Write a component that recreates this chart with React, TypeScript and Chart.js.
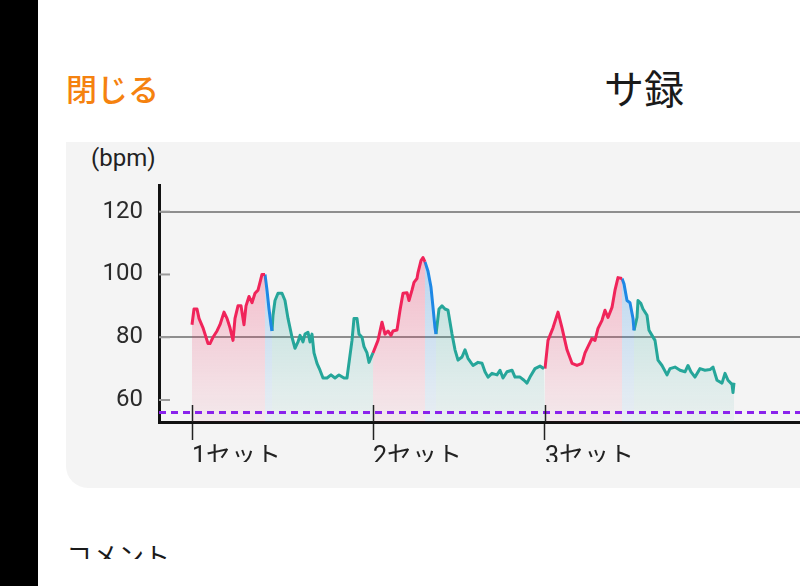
import React, { useEffect, useRef } from "react";
import { Chart, registerables } from "chart.js";

Chart.register(...registerables);

// ---- data (t = seconds from first set start, bpm) ----
const set1Rise: [number, number][] = [
  [0, 84], [2, 89], [5, 89], [7, 86], [11, 83], [14, 80], [16, 78], [18, 78], [21, 80], [25, 82],
  [28, 84], [32, 88], [35, 86], [38, 83], [41, 79], [43, 86], [46, 90], [49, 90], [52, 84], [54, 90],
  [57, 93], [60, 91], [63, 94], [66, 95], [68, 97.5], [70, 100], [73, 100],
];
const set1Drop: [number, number][] = [[73, 100], [75, 95], [77, 89], [79, 84], [80, 82]];
const set1Recovery: [number, number][] = [
  [80, 82], [81, 87], [83, 91.7], [86, 94], [90, 94], [93, 91.7], [96, 86], [100, 80], [103, 76.5],
  [106, 78.5], [108, 80.6], [111, 78.5], [113, 81], [116, 81.6], [118, 78.5], [120, 81], [122, 75],
  [125, 71.7], [128, 69.5], [131, 67], [135, 67], [139, 68], [143, 67], [147, 68], [152, 67],
  [155, 67], [156, 69.5], [160, 79], [162, 86], [165, 86], [167, 81], [170, 80], [172, 77],
  [175, 75], [177, 72], [180, 74.3], [181, 75],
];
const set2Rise: [number, number][] = [
  [181, 75], [186, 79], [190, 84.8], [193, 81], [196, 82], [199, 80.6], [201, 82], [205, 82.3],
  [208, 88.6], [211, 94], [215, 94.2], [217, 91.7], [220, 95], [222, 97.5], [225, 98.7],
  [226, 100.6], [229, 104.4], [231, 105.4], [233, 104],
];
const set2Drop: [number, number][] = [[233, 104], [236, 101], [239, 95.9], [241, 89.5], [243, 83], [244, 81]];
const set2Recovery: [number, number][] = [
  [244, 81], [246, 86.3], [247, 89], [250, 90], [253, 89], [256, 88.6], [260, 81], [263, 76],
  [266, 72.7], [270, 73.7], [273, 76], [276, 73.3], [281, 71], [286, 72], [290, 71.7], [293, 69],
  [296, 67.3], [300, 68.5], [305, 68], [308, 69.5], [311, 67], [315, 69], [320, 69.5], [323, 67.3],
  [328, 67.3], [332, 66.3], [335, 65.4], [338, 67.3], [343, 70], [348, 70.8], [352, 70], [353, 70],
];
const set3Rise: [number, number][] = [
  [353, 70], [356, 79], [361, 83], [366, 88], [370, 83], [375, 76], [380, 71.7], [385, 71],
  [390, 71.7], [393, 75], [396, 77], [400, 79.6], [403, 79], [406, 82.8], [410, 85.4], [413, 88.6],
  [416, 86.3], [420, 89.5], [423, 95], [426, 99], [430, 98.7],
];
const set3Drop: [number, number][] = [[430, 98.7], [432, 97], [435, 91.7], [438, 91], [441, 86], [442, 82.2]];
const set3Recovery: [number, number][] = [
  [442, 82.2], [445, 86.3], [446, 91.7], [449, 90.7], [451, 89], [455, 87], [457, 82.2], [460, 80.6],
  [463, 79], [466, 72.7], [470, 71], [475, 68], [478, 70], [483, 70.5], [488, 69.5], [493, 69],
  [496, 71], [499, 69], [503, 67.3], [508, 70], [513, 69.5], [518, 69.7], [521, 70.5], [525, 66.3],
  [530, 65.4], [533, 68.5], [536, 66.3], [540, 65], [541, 62.4], [542, 65.5],
];

const setLabels = ["1セット", "2セット", "3セット"];
const setStarts = [0, 181, 353];
const yTickValues = [60, 80, 100, 120];
const yMajorGrid = [80, 120];
const restingBpm = 56;
const xMin = -33;
const xMax = 608;
const yMin = 53;
const yMax = 128.5;

type Phase = "rise" | "drop" | "recovery";
const phases: { data: [number, number][]; kind: Phase }[] = [
  { data: set1Rise, kind: "rise" },
  { data: set1Drop, kind: "drop" },
  { data: set1Recovery, kind: "recovery" },
  { data: set2Rise, kind: "rise" },
  { data: set2Drop, kind: "drop" },
  { data: set2Recovery, kind: "recovery" },
  { data: set3Rise, kind: "rise" },
  { data: set3Drop, kind: "drop" },
  { data: set3Recovery, kind: "recovery" },
];

const phaseColor: Record<Phase, [number, number, number]> = {
  rise: [240, 36, 90],
  drop: [30, 136, 229],
  recovery: [38, 166, 154],
};

const FONT = 'Roboto, "Noto Sans CJK JP", "Noto Sans", sans-serif';

const tickPlugin = {
  id: "hrTicks",
  afterDraw(chart: any) {
    const { ctx, chartArea, scales } = chart;
    const x = scales.x;
    const y = scales.y;
    ctx.save();
    ctx.strokeStyle = "#9a9a9a";
    ctx.lineWidth = 2;
    yTickValues.forEach((v) => {
      const py = y.getPixelForValue(v);
      ctx.beginPath();
      ctx.moveTo(chartArea.left, py);
      ctx.lineTo(chartArea.left + 11, py);
      ctx.stroke();
    });
    ctx.strokeStyle = "#222";
    ctx.lineWidth = 1.5;
    setStarts.forEach((t) => {
      const px = Math.round(x.getPixelForValue(t)) + 0.5;
      ctx.beginPath();
      ctx.moveTo(px, chartArea.bottom - 17);
      ctx.lineTo(px, chartArea.bottom);
      ctx.stroke();
    });
    ctx.restore();
  },
};

function HeartRateChart() {
  const ref = useRef<HTMLCanvasElement | null>(null);
  useEffect(() => {
    if (!ref.current) return;
    const grad = (kind: Phase) => (context: any) => {
      const chart = context.chart;
      const area = chart.chartArea;
      const [r, g, b] = phaseColor[kind];
      if (!area) return `rgba(${r},${g},${b},0.12)`;
      const gr = chart.ctx.createLinearGradient(0, area.top + 70, 0, area.bottom);
      gr.addColorStop(0, `rgba(${r},${g},${b},0.28)`);
      gr.addColorStop(1, `rgba(${r},${g},${b},0.05)`);
      return gr;
    };
    const datasets: any[] = [
      {
        data: [
          { x: xMin, y: restingBpm },
          { x: xMax, y: restingBpm },
        ],
        borderColor: "#8a22ec",
        borderWidth: 3,
        borderDash: [7, 5],
        pointRadius: 0,
        fill: false,
      },
      ...phases.map((p) => {
        const [r, g, b] = phaseColor[p.kind];
        return {
          data: p.data.map(([t, v]) => ({ x: t, y: v })),
          borderColor: `rgb(${r},${g},${b})`,
          borderWidth: 3,
          borderJoinStyle: "round",
          pointRadius: 0,
          tension: 0,
          fill: "start",
          backgroundColor: grad(p.kind),
        };
      }),
    ];
    const chart = new Chart(ref.current, {
      type: "line",
      data: { datasets },
      plugins: [tickPlugin],
      options: {
        animation: false,
        responsive: false,
        maintainAspectRatio: false,
        layout: { padding: { top: 10, right: 0, left: 0, bottom: 0 } },
        plugins: { legend: { display: false }, tooltip: { enabled: false } },
        scales: {
          x: {
            type: "linear",
            min: xMin,
            max: xMax,
            afterBuildTicks: (scale: any) => {
              scale.ticks = setStarts.map((v) => ({ value: v }));
            },
            afterFit: (scale: any) => {
              scale.height = 60;
              scale.paddingLeft = 0;
              scale.paddingRight = 0;
            },
            border: { display: true, color: "#111", width: 3 },
            grid: {
              display: true,
              drawOnChartArea: false,
              drawTicks: true,
              tickLength: 18,
              tickColor: "#222",
              tickWidth: 1.5,
            },
            ticks: {
              align: "start",
              padding: 3,
              maxRotation: 0,
              autoSkip: false,
              color: "#222",
              font: { family: FONT, size: 25 },
              callback: (v: any) => setLabels[setStarts.indexOf(Number(v))] ?? "",
            },
          },
          y: {
            type: "linear",
            min: yMin,
            max: yMax,
            afterBuildTicks: (scale: any) => {
              scale.ticks = yTickValues.map((v) => ({ value: v }));
            },
            afterFit: (scale: any) => {
              scale.width = 94;
              scale.paddingTop = 0;
              scale.paddingBottom = 0;
            },
            border: { display: true, color: "#111", width: 3 },
            grid: {
              drawTicks: false,
              lineWidth: 2,
              color: (c: any) =>
                c.tick && yMajorGrid.includes(c.tick.value) ? "#8e8e8e" : "rgba(0,0,0,0)",
            },
            ticks: {
              padding: 16,
              color: "#2b2b2b",
              font: { family: FONT, size: 24 },
            },
          },
        },
      },
    });
    return () => chart.destroy();
  }, []);
  return <canvas ref={ref} width={735} height={307} style={{ display: "block", width: 735, height: 307 }} />;
}

export default function App() {
  return (
    <div
      style={{
        position: "fixed",
        left: 0,
        top: 0,
        width: 800,
        height: 586,
        overflow: "hidden",
        background: "#fff",
        fontFamily: FONT,
      }}
    >
      <div style={{ position: "absolute", left: 0, top: 0, width: 38, height: 586, background: "#000" }} />
      <div
        style={{
          position: "absolute",
          left: 66,
          top: 68,
          fontSize: 31,
          lineHeight: "40px",
          color: "#f5820f",
          fontFamily: '"Noto Sans CJK JP", sans-serif',
          fontWeight: 500,
        }}
      >
        閉じる
      </div>
      <div
        style={{
          position: "absolute",
          left: 604,
          top: 62,
          fontSize: 40,
          lineHeight: "50px",
          color: "#1a1a1a",
          fontFamily: '"Noto Sans CJK JP", sans-serif',
        }}
      >
        サ録
      </div>
      <div
        style={{
          position: "absolute",
          left: 66,
          top: 142,
          width: 760,
          height: 346,
          background: "#f4f4f4",
          borderRadius: "0 0 0 22px",
        }}
      />
      <div
        style={{
          position: "absolute",
          left: 91,
          top: 143,
          fontSize: 24,
          lineHeight: "30px",
          color: "#222",
        }}
      >
        (bpm)
      </div>
      <div style={{ position: "absolute", left: 65, top: 175, width: 735, height: 287, overflow: "hidden" }}>
        <HeartRateChart />
      </div>
      <div style={{ position: "absolute", left: 66, top: 538, height: 21, overflow: "hidden" }}>
        <div
          style={{
            fontSize: 26,
            lineHeight: "34px",
            color: "#1a1a1a",
            fontFamily: '"Noto Sans CJK JP", sans-serif',
          }}
        >
          コメント
        </div>
      </div>
    </div>
  );
}
